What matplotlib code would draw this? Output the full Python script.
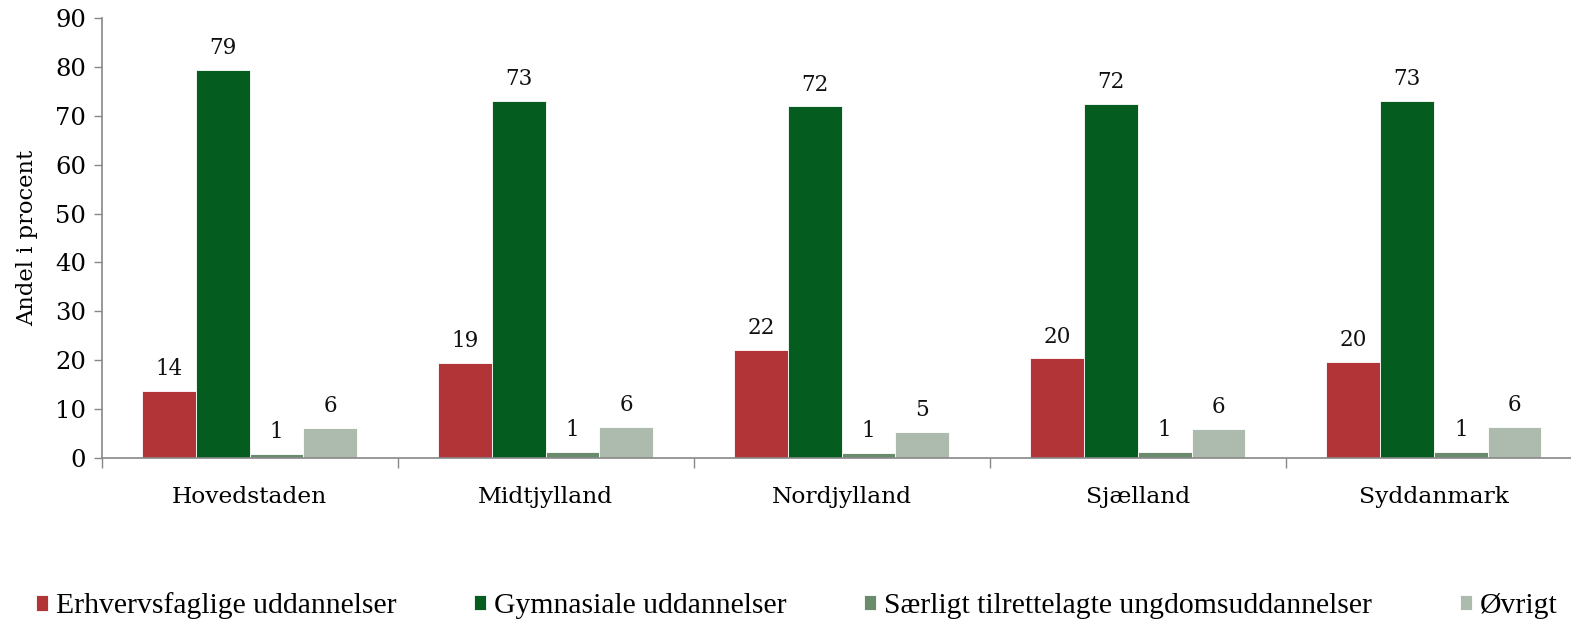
import matplotlib
matplotlib.use("Agg")
import matplotlib.pyplot as plt
import numpy as np

categories = ["Hovedstaden", "Midtjylland", "Nordjylland", "Sjælland", "Syddanmark"]
series_names = ["Erhvervsfaglige uddannelser", "Gymnasiale uddannelser",
                "Særligt tilrettelagte ungdomsuddannelser", "Øvrigt"]
erhverv = [13.7, 19.4, 22.1, 20.4, 19.6]
gymnasial = [79.4, 73.0, 71.9, 72.5, 73.0]
saerligt = [0.9, 1.3, 1.1, 1.3, 1.3]
oevrigt = [6.2, 6.4, 5.3, 6.0, 6.3]
yticks = [0, 10, 20, 30, 40, 50, 60, 70, 80, 90]

series = [erhverv, gymnasial, saerligt, oevrigt]
colors = ["#B33437", "#045C1F", "#6A8B6C", "#ADBAAE"]

plt.rcParams['font.family'] = ['DejaVu Serif']

W, H = 1571, 620
fig = plt.figure(figsize=(W/100, H/100), dpi=100)
x0, x1 = 101.5, 1582
y0, y1 = 458, 18
ax = fig.add_axes([x0/W, 1-y0/H, (x1-x0)/W, (y0-y1)/H])

x = np.arange(len(categories))
bw = 0.1815
handles = []
for i, (vals, c, name) in enumerate(zip(series, colors, series_names)):
    pos = x + (i - 1.5) * bw
    b = ax.bar(pos, vals, width=bw, color=c, edgecolor='white', linewidth=0.6, label=name)
    handles.append(b)
    for p, v in zip(pos, vals):
        ax.text(p, v + 2.2, f"{v:.0f}", ha='center', va='bottom', fontsize=15.5, color='#111111')

ax.set_xlim(-0.5, len(categories) - 0.5)
ax.set_ylim(0, 90)
ax.set_yticks(yticks)
ax.set_yticklabels([str(t) for t in yticks], fontsize=17.5)
ax.set_xticks(x)
ax.set_xticklabels(categories, fontsize=16.8)
ax.set_xticks(np.arange(len(categories) + 1) - 0.5, minor=True)
ax.tick_params(axis='x', which='major', length=0, pad=20)
ax.tick_params(axis='x', which='minor', length=7, color='#888888', width=1)
ax.tick_params(axis='y', length=6, color='#888888', width=1, pad=5)
for s in ['top', 'right']:
    ax.spines[s].set_visible(False)
for s in ['left', 'bottom']:
    ax.spines[s].set_color('#888888')
    ax.spines[s].set_linewidth(1.2)
ax.set_ylabel("Andel i procent", fontsize=16.3, labelpad=12)

leg_x = [36, 474, 864, 1460]
for h, lx in zip(handles, leg_x):
    fig.legend(handles=[h], loc='center left', bbox_to_anchor=(lx/W, 1-606/H),
               frameon=False, prop={'family': 'Liberation Serif', 'size': 21.3},
               handlelength=0.42, handleheight=0.42,
               handletextpad=0.25, borderpad=0, borderaxespad=0)

fig.savefig("out.png", dpi=100)
